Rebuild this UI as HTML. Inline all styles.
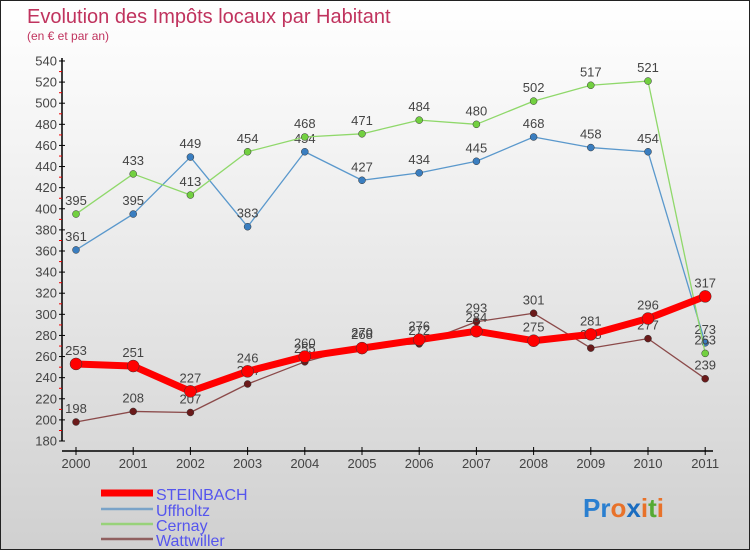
<!DOCTYPE html>
<html><head><meta charset="utf-8"><style>
body{margin:0}
#c{width:750px;height:550px;position:relative;font-family:"Liberation Sans",sans-serif;background:linear-gradient(#fff 0%,#f4f4f4 25%,#d0d0d0 100%);border:1px solid #222;box-sizing:border-box;overflow:hidden}
svg text{font-family:"Liberation Sans",sans-serif}
</style></head><body>
<div id="c">
<svg width="750" height="550" style="position:absolute;left:0;top:0" id="svg">
<text x="26" y="22" font-size="20" fill="#c0335e">Evolution des Impôts locaux par Habitant</text>
<text x="26" y="39" font-size="12" fill="#c0335e">(en € et par an)</text>
<g id="axes"></g><g id="series"></g>
<g>
<line x1="100" y1="492" x2="152" y2="492" stroke="#f00" stroke-width="7"/>
<text x="155" y="499" font-size="16" fill="#5555ee">STEINBACH</text>
<line x1="100" y1="508" x2="152" y2="508" stroke="#7aa3c8" stroke-width="2.5"/>
<text x="155" y="515" font-size="16" fill="#5555ee">Uffholtz</text>
<line x1="100" y1="523" x2="152" y2="523" stroke="#98d27a" stroke-width="2.5"/>
<text x="155" y="530" font-size="16" fill="#5555ee">Cernay</text>
<line x1="100" y1="538" x2="152" y2="538" stroke="#906060" stroke-width="2.5"/>
<text x="155" y="545" font-size="16" fill="#5555ee">Wattwiller</text>
</g>
<text x="582" y="516" font-size="26" font-weight="bold"><tspan fill="#2a7fd0">Pr</tspan><tspan fill="#e8722a">o</tspan><tspan fill="#1a6cc0">x</tspan><tspan fill="#e8722a">i</tspan><tspan fill="#55aa33">t</tspan><tspan fill="#e8722a">i</tspan></text>
</svg>
</div>
<script>
const years=["2000","2001","2002","2003","2004","2005","2006","2007","2008","2009","2010","2011"];
const steinbach=[253,251,227,246,260,268,276,284,275,281,296,317];
const uffholtz=[361,395,449,383,454,427,434,445,468,458,454,273];
const cernay=[395,433,413,454,468,471,484,480,502,517,521,263];
const wattwiller=[198,208,207,234,255,270,272,293,301,268,277,239];
const yTicks=[180,200,220,240,260,280,300,320,340,360,380,400,420,440,460,480,500,520,540];
const NS="http://www.w3.org/2000/svg";
const X=i=>75+i*57.2, Y=v=>440-(v-180)*1.0556;
function mk(t,a,p){const e=document.createElementNS(NS,t);for(const k in a)e.setAttribute(k,a[k]);p.appendChild(e);return e;}
const ax=document.getElementById('axes'), sg=document.getElementById('series');
mk('line',{x1:61,y1:57,x2:61,y2:440,stroke:'#000','stroke-width':1.5},ax);
mk('line',{x1:61,y1:450,x2:712,y2:450,stroke:'#000','stroke-width':1.5},ax);
yTicks.forEach(v=>{
  const y=Y(v);
  const t=mk('line',{x1:58,y1:y,x2:64,y2:y,stroke:'#000'},ax);
  
  
  if(v<540) mk('line',{x1:58,y1:y-10.5,x2:61,y2:y-10.5,stroke:'#e00'},ax);
  const l=mk('text',{x:56,y:y+4.5,'font-size':13,'text-anchor':'end',fill:'#444'},ax);
  l.textContent=v;
  
  
});
years.forEach((yr,i)=>{
  mk('line',{x1:X(i),y1:446,x2:X(i),y2:454,stroke:'#000'},ax);
  const l=mk('text',{x:X(i),y:467,'font-size':13,'text-anchor':'middle',fill:'#444'},ax);
  l.textContent=yr;
  
  
});
function series(name,data,color,w,dot,r){
  const g=mk('g',{},sg);
  
  
  mk('polyline',{points:data.map((v,i)=>X(i)+','+Y(v)).join(' '),fill:'none',stroke:color,'stroke-width':w,'stroke-linejoin':'round'},g);
  data.forEach((v,i)=>{
    const c=mk('circle',{cx:X(i),cy:Y(v),r:r,fill:dot,stroke:'#333','stroke-width':0.5},g);
    
    
    const t=mk('text',{x:X(i),y:Y(v)-9,'font-size':13,'text-anchor':'middle',fill:'#444'},g);
    t.textContent=v;
    
    
  });
}
series('wattwiller',wattwiller,'#8b4a4a',1.3,'#6b1a1a',3.5);
series('uffholtz',uffholtz,'#5a98cc',1.3,'#3a7ec0',3.5);
series('cernay',cernay,'#8fd86a',1.3,'#72d040',3.5);
series('steinbach',steinbach,'#f00',7,'#f00',6);
</script>
</body></html>
